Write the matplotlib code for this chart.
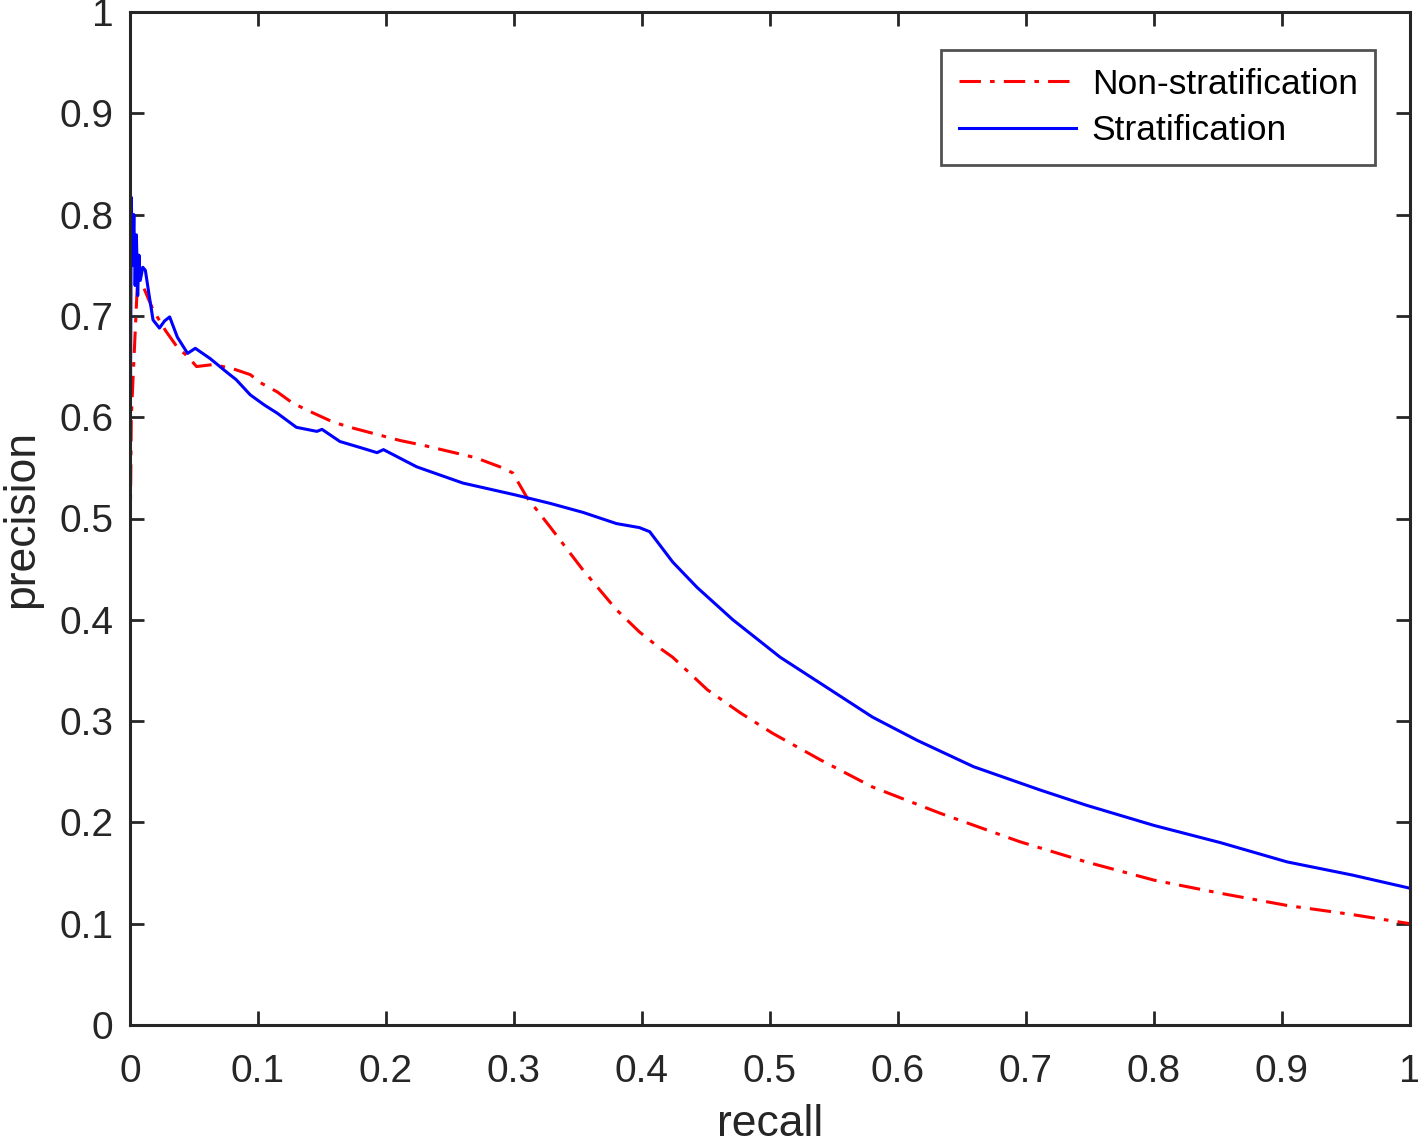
import matplotlib
matplotlib.use("Agg")
import matplotlib.pyplot as plt

plt.rcParams['font.family'] = ['Liberation Sans', 'DejaVu Sans']

# Non-stratification (red dash-dot)
recall_non = [0.0, 0.0, 0.001, 0.006, 0.010, 0.018, 0.028, 0.037, 0.045, 0.052, 0.065,
              0.080, 0.094, 0.102, 0.115, 0.127, 0.140, 0.159, 0.175, 0.211, 0.230,
              0.250, 0.270, 0.289, 0.299, 0.310, 0.328, 0.354, 0.380, 0.398, 0.414,
              0.424, 0.451, 0.477, 0.502, 0.539, 0.580, 0.633, 0.695, 0.747, 0.800,
              0.852, 0.904, 0.955, 1.000]
precision_non = [1.0, 0.46, 0.60, 0.738, 0.73, 0.706, 0.685, 0.669, 0.660, 0.650, 0.652,
                 0.648, 0.642, 0.634, 0.625, 0.614, 0.606, 0.595, 0.589, 0.577, 0.572,
                 0.566, 0.560, 0.551, 0.545, 0.521, 0.492, 0.449, 0.410, 0.388, 0.372,
                 0.363, 0.331, 0.308, 0.288, 0.262, 0.235, 0.209, 0.181, 0.161, 0.143,
                 0.130, 0.118, 0.109, 0.100]

# Stratification (blue solid)
recall_str = [0.0, 0.0, 0.001, 0.002, 0.003, 0.004, 0.005, 0.006, 0.007, 0.008, 0.010,
              0.012, 0.015, 0.018, 0.023, 0.027, 0.031, 0.037, 0.045, 0.051, 0.0625,
              0.076, 0.083, 0.094, 0.105, 0.115, 0.130, 0.146, 0.150, 0.164, 0.180,
              0.193, 0.198, 0.224, 0.260, 0.302, 0.328, 0.354, 0.380, 0.398, 0.406,
              0.424, 0.443, 0.471, 0.508, 0.541, 0.580, 0.615, 0.659, 0.711, 0.747,
              0.800, 0.852, 0.904, 0.955, 1.000]
precision_str = [0.0, 0.50, 0.817, 0.75, 0.80, 0.73, 0.78, 0.72, 0.76, 0.735, 0.748,
                 0.745, 0.72, 0.696, 0.688, 0.695, 0.699, 0.679, 0.663, 0.668, 0.658,
                 0.644, 0.637, 0.622, 0.612, 0.604, 0.590, 0.586, 0.588, 0.576, 0.570,
                 0.565, 0.568, 0.551, 0.535, 0.523, 0.515, 0.506, 0.495, 0.491, 0.487,
                 0.457, 0.432, 0.400, 0.363, 0.336, 0.304, 0.281, 0.255, 0.232, 0.217,
                 0.197, 0.180, 0.161, 0.148, 0.135]

x_ticks = [0, 0.1, 0.2, 0.3, 0.4, 0.5, 0.6, 0.7, 0.8, 0.9, 1]
x_tick_labels = ['0', '0.1', '0.2', '0.3', '0.4', '0.5', '0.6', '0.7', '0.8', '0.9', '1']
y_ticks = [0, 0.1, 0.2, 0.3, 0.4, 0.5, 0.6, 0.7, 0.8, 0.9, 1]
y_tick_labels = ['0', '0.1', '0.2', '0.3', '0.4', '0.5', '0.6', '0.7', '0.8', '0.9', '1']

fig = plt.figure(figsize=(14.18, 11.47), dpi=100)
ax = fig.add_axes([130/1418, 1 - 1025/1147, 1280/1418, 1013/1147])

ax.plot(recall_non, precision_non, color='#ff0000', linestyle=(0, (7, 3, 1.5, 3)),
        linewidth=2.2, label='Non-stratification')
ax.plot(recall_str, precision_str, color='#0000ff', linestyle='-',
        linewidth=2.2, label='Stratification')

ax.set_xlim(0, 1)
ax.set_ylim(0, 1)
ax.set_xticks(x_ticks)
ax.set_xticklabels(x_tick_labels)
ax.set_yticks(y_ticks)
ax.set_yticklabels(y_tick_labels)

axis_col = '#262626'
for s in ax.spines.values():
    s.set_color(axis_col)
    s.set_linewidth(2.2)
ax.tick_params(direction='in', length=10, width=2, colors=axis_col,
               labelcolor='#262626', labelsize=28, top=True, right=True)
ax.tick_params(axis='x', pad=21)
ax.tick_params(axis='y', pad=12)

ax.set_xlabel('recall', fontsize=32, color='#262626', labelpad=10)
ax.set_ylabel('precision', fontsize=32, color='#262626', labelpad=12)

leg = ax.legend(loc='upper right', bbox_to_anchor=(0.973, 0.9625), fontsize=25.5,
                frameon=True, fancybox=False, handlelength=3.3,
                borderpad=0.5, labelspacing=0.38, handletextpad=0.45,
                borderaxespad=0)
leg.get_frame().set_edgecolor(axis_col)
leg.get_frame().set_linewidth(2.0)
for t in leg.get_texts():
    t.set_color('black')

fig.savefig('out.png', dpi=100)
